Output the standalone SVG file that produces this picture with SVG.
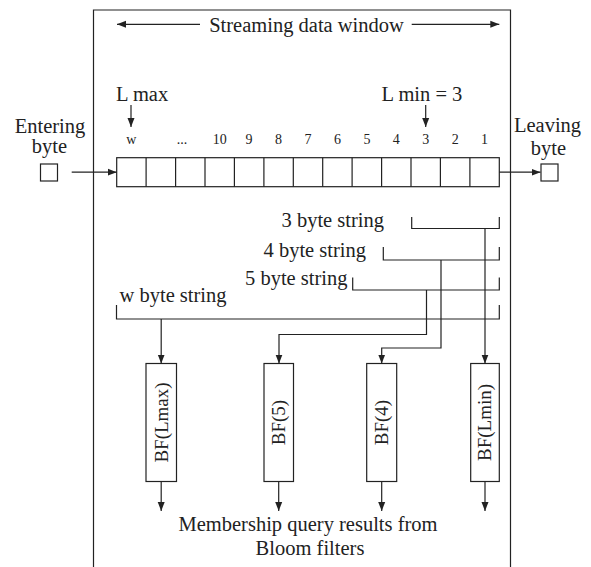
<svg xmlns="http://www.w3.org/2000/svg" width="591" height="567" viewBox="0 0 591 567">
  <style>
    .ln { fill: none; stroke: #222; stroke-width: 1.2; }
    .box { fill: #fff; stroke: #222; stroke-width: 1.2; }
    .t { font-family: "Liberation Serif", "Times New Roman", serif; fill: #222; }
    .big { font-size: 20.5px; }
    .num { font-size: 14px; text-anchor: middle; }
    .bf { font-size: 19px; text-anchor: middle; }
    .mid { text-anchor: middle; }
  </style>
  <defs>
    <marker id="arr" markerUnits="userSpaceOnUse" markerWidth="10" markerHeight="8" refX="9" refY="4" orient="auto">
      <path d="M0,0.5 L9,4 L0,7.5 z" fill="#222"/>
    </marker>
  </defs>

  <!-- window frame (open at bottom) -->
  <g id="frame">
    <path class="ln" d="M93.5,570 V10 H510.5 V570"/>
    <text class="t big mid" x="306.5" y="31.5">Streaming data window</text>
  </g>

  <!-- entering byte -->
  <g id="entering">
    <text class="t big mid" x="50" y="133">Entering</text>
    <text class="t big mid" x="49.5" y="153">byte</text>
    <rect class="box" x="40.5" y="164" width="17" height="17"/>
  </g>

  <!-- leaving byte -->
  <g id="leaving">
    <text class="t big mid" x="547.5" y="131.5">Leaving</text>
    <text class="t big mid" x="548.5" y="155">byte</text>
    <rect class="box" x="541" y="164" width="17" height="17"/>
  </g>

  <!-- window cells -->
  <g id="cells">
    <rect class="box" x="116.7" y="157.7" width="382.6" height="29"/>
    <path class="ln" d="M146.1,157.7V186.7 M175.6,157.7V186.7 M205,157.7V186.7 M234.4,157.7V186.7 M263.9,157.7V186.7 M293.3,157.7V186.7 M322.7,157.7V186.7 M352.1,157.7V186.7 M381.6,157.7V186.7 M411,157.7V186.7 M440.4,157.7V186.7 M469.9,157.7V186.7"/>
    <text class="t num" x="131.4" y="144">w</text>
    <text class="t num" x="182" y="144">...</text>
    <text class="t num" x="219.7" y="144">10</text>
    <text class="t num" x="249.1" y="144">9</text>
    <text class="t num" x="278.6" y="144">8</text>
    <text class="t num" x="308" y="144">7</text>
    <text class="t num" x="337.4" y="144">6</text>
    <text class="t num" x="366.9" y="144">5</text>
    <text class="t num" x="396.3" y="144">4</text>
    <text class="t num" x="425.7" y="144">3</text>
    <text class="t num" x="455.2" y="144">2</text>
    <text class="t num" x="484.6" y="144">1</text>
  </g>

  <!-- length markers -->
  <g id="lmax">
    <text class="t big" x="116" y="100.5">L max</text>
  </g>
  <g id="lmin">
    <text class="t big" x="381.5" y="100.5">L min = 3</text>
  </g>

  <!-- substring labels -->
  <g id="s3"><text class="t big" x="281.5" y="226.5">3 byte string</text></g>
  <g id="s4"><text class="t big" x="263.5" y="256.5">4 byte string</text></g>
  <g id="s5"><text class="t big" x="245" y="285">5 byte string</text></g>
  <g id="sw"><text class="t big" x="119.5" y="301.5">w byte string</text></g>

  <!-- Bloom filters -->
  <g id="bf-lmax">
    <rect class="box" x="146" y="363.5" width="30.5" height="118"/>
    <text class="t bf" transform="translate(167.5,422.5) rotate(-90)">BF(Lmax)</text>
  </g>
  <g id="bf-5">
    <rect class="box" x="264" y="363.5" width="29.5" height="118"/>
    <text class="t bf" transform="translate(285,422.5) rotate(-90)">BF(5)</text>
  </g>
  <g id="bf-4">
    <rect class="box" x="366.7" y="363.5" width="30" height="118"/>
    <text class="t bf" transform="translate(388,422.5) rotate(-90)">BF(4)</text>
  </g>
  <g id="bf-lmin">
    <rect class="box" x="470.7" y="363.5" width="28.6" height="118"/>
    <text class="t bf" transform="translate(491.3,422.5) rotate(-90)">BF(Lmin)</text>
  </g>

  <g id="result">
    <text class="t big mid" x="308" y="530.5">Membership query results from</text>
    <text class="t big mid" x="310" y="555">Bloom filters</text>
  </g>

  <!-- connectors -->
  <g id="connectors">
    <!-- window span -->
    <path class="ln" d="M200,24.3 H117" marker-end="url(#arr)"/>
    <path class="ln" d="M411.7,24.3 H499.3" marker-end="url(#arr)"/>
    <!-- byte in / out -->
    <path class="ln" d="M71.7,172.2 H116.7" marker-end="url(#arr)"/>
    <path class="ln" d="M499.3,172.2 H540.5" marker-end="url(#arr)"/>
    <!-- L max / L min pointers -->
    <path class="ln" d="M131,105 V127" marker-end="url(#arr)"/>
    <path class="ln" d="M425.7,105 V127" marker-end="url(#arr)"/>
    <!-- substring brackets -->
    <path class="ln" d="M411.7,217 V228.5 H499.3 V217"/>
    <path class="ln" d="M383.3,247 V260 H499.3 V247"/>
    <path class="ln" d="M352.7,277.5 V290 H499.3 V277.5"/>
    <path class="ln" d="M116.5,305 V319 H499.3 V305"/>
    <!-- substrings to filters -->
    <path class="ln" d="M485,228.5 V363.5" marker-end="url(#arr)"/>
    <path class="ln" d="M441,260 V348 H381.7 V363.5" marker-end="url(#arr)"/>
    <path class="ln" d="M426.5,290 V334.5 H279 V363.5" marker-end="url(#arr)"/>
    <path class="ln" d="M161.2,319 V363.5" marker-end="url(#arr)"/>
    <!-- filter outputs -->
    <path class="ln" d="M161.2,481.5 V511" marker-end="url(#arr)"/>
    <path class="ln" d="M278.7,481.5 V511" marker-end="url(#arr)"/>
    <path class="ln" d="M381.7,481.5 V511" marker-end="url(#arr)"/>
    <path class="ln" d="M485,481.5 V511" marker-end="url(#arr)"/>
  </g>
</svg>
